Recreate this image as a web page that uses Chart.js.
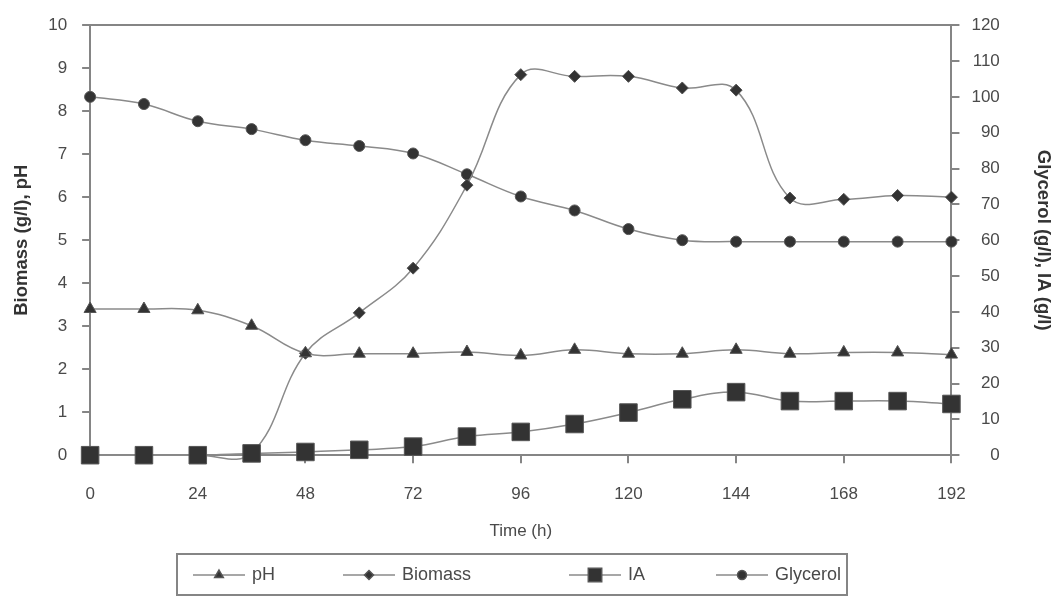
<!DOCTYPE html>
<html lang="en">
<head>
  <meta charset="UTF-8">
  <title>pH, Biomass, IA and Glycerol over time</title>
  <script src="https://cdn.jsdelivr.net/npm/chart.js"></script>
  <style>
    html, body { margin: 0; padding: 0; background: #fff; }
    #wrap { width: 1055px; height: 596px; }
  </style>
</head>
<body>
  <div id="wrap"><canvas id="chart" width="1055" height="596"></canvas></div>

  <script>
    // sampling times (h)
    const hours = [0, 12, 24, 36, 48, 60, 72, 84, 96, 108, 120, 132, 144, 156, 168, 180, 192];

    // left axis series
    const phValues      = [3.40, 3.40, 3.37, 3.01, 2.37, 2.36, 2.36, 2.40, 2.32, 2.45, 2.36, 2.36, 2.45, 2.36, 2.39, 2.39, 2.34];
    const biomassValues = [0, 0, 0, 0.05, 2.37, 3.31, 4.35, 6.28, 8.85, 8.81, 8.81, 8.54, 8.49, 5.98, 5.95, 6.04, 6.00];

    // right axis series
    const iaValues       = [0, 0, 0, 0.5, 0.9, 1.5, 2.4, 5.2, 6.5, 8.7, 11.9, 15.6, 17.6, 15.1, 15.1, 15.1, 14.3];
    const glycerolValues = [100, 98.0, 93.2, 91.0, 87.9, 86.3, 84.2, 78.4, 72.2, 68.3, 63.1, 60.0, 59.6, 59.6, 59.6, 59.6, 59.6];

    // tick labels
    const timeTicks  = [0, 24, 48, 72, 96, 120, 144, 168, 192];
    const leftTicks  = [0, 1, 2, 3, 4, 5, 6, 7, 8, 9, 10];
    const rightTicks = [0, 10, 20, 30, 40, 50, 60, 70, 80, 90, 100, 110, 120];

    const seriesNames = ['pH', 'Biomass', 'IA', 'Glycerol'];

    const lineGrey = '#8a8a8a';
    const axisGrey = '#858585';
    const markFill = '#333333';
    const labelCol = '#4a4a4a';

    const toXY = vals => hours.map((h, i) => ({ x: h, y: vals[i] }));

    Chart.defaults.font.family = "'Liberation Sans', Arial, sans-serif";
    Chart.defaults.color = labelCol;

    // legend drawn as a boxed row under the axis title, like the original
    const legendSlots = [193, 343, 569, 716];
    const legendRadius = [5, 4.5, 9.5, 4.5];
    const boxedLegend = {
      id: 'boxedLegend',
      afterDraw(chart) {
        const ctx = chart.ctx;
        const y = 575;
        ctx.save();
        ctx.strokeStyle = axisGrey;
        ctx.lineWidth = 2;
        ctx.strokeRect(177, 554, 670, 41);
        ctx.font = "18px 'Liberation Sans', Arial, sans-serif";
        ctx.textBaseline = 'middle';
        ctx.textAlign = 'left';
        chart.data.datasets.forEach((ds, i) => {
          const x0 = legendSlots[i];
          ctx.strokeStyle = ds.borderColor;
          ctx.lineWidth = 1.5;
          ctx.beginPath();
          ctx.moveTo(x0, y);
          ctx.lineTo(x0 + 52, y);
          ctx.stroke();
          ctx.fillStyle = markFill;
          ctx.strokeStyle = '#555';
          Chart.helpers.drawPoint(ctx, {
            pointStyle: ds.pointStyle, radius: legendRadius[i], rotation: 0, borderWidth: 1
          }, x0 + 26, y);
          ctx.fillStyle = labelCol;
          ctx.fillText(ds.label, x0 + 59, y);
        });
        ctx.restore();
      }
    };

    const baseSet = {
      borderColor: lineGrey,
      borderWidth: 1.5,
      backgroundColor: markFill,
      pointBackgroundColor: markFill,
      pointBorderColor: '#555',
      pointBorderWidth: 1,
      tension: 0.4,
      fill: false,
      clip: false
    };

    new Chart(document.getElementById('chart'), {
      type: 'line',
      data: {
        datasets: [
          { ...baseSet, label: seriesNames[0], data: toXY(phValues), yAxisID: 'yLeft',
            pointStyle: 'triangle', pointRadius: 7 },
          { ...baseSet, label: seriesNames[1], data: toXY(biomassValues), yAxisID: 'yLeft',
            pointStyle: 'rectRot', pointRadius: 6 },
          { ...baseSet, label: seriesNames[2], data: toXY(iaValues), yAxisID: 'yRight',
            pointStyle: 'rect', pointRadius: 12.4, order: -1 },
          { ...baseSet, label: seriesNames[3], data: toXY(glycerolValues), yAxisID: 'yRight',
            pointStyle: 'circle', pointRadius: 5.5 }
        ]
      },
      options: {
        responsive: false,
        animation: false,
        events: [],
        elements: { line: { capBezierPoints: false } },
        layout: { padding: { top: 21, left: 0, right: 0, bottom: 54 } },
        plugins: {
          legend: { display: false },
          tooltip: { enabled: false }
        },
        scales: {
          x: {
            type: 'linear',
            min: 0,
            max: 192,
            afterBuildTicks: s => { s.ticks = timeTicks.map(v => ({ value: v })); },
            grid: { drawOnChartArea: false, color: axisGrey, tickLength: 8, lineWidth: 2 },
            border: { color: axisGrey, width: 2 },
            ticks: { font: { size: 17 }, color: labelCol, padding: 21, maxRotation: 0 },
            title: { display: true, text: 'Time (h)', font: { size: 17 }, color: labelCol,
                     padding: { top: -4, bottom: 0 } }
          },
          yLeft: {
            position: 'left',
            min: 0,
            max: 10,
            afterBuildTicks: s => { s.ticks = leftTicks.map(v => ({ value: v })); },
            grid: {
              color: c => (c.tick && c.tick.value === 10 ? axisGrey : 'rgba(0,0,0,0)'),
              tickColor: axisGrey, tickLength: 8, lineWidth: 2
            },
            border: { color: axisGrey, width: 2 },
            ticks: { font: { size: 17 }, color: labelCol, padding: 15 },
            title: { display: true, text: 'Biomass (g/l), pH', font: { size: 18.5, weight: 'bold' },
                     color: '#333', padding: { top: 11, bottom: 0 } }
          },
          yRight: {
            position: 'right',
            weight: 0,
            min: 0,
            max: 120,
            afterBuildTicks: s => { s.ticks = rightTicks.map(v => ({ value: v })); },
            grid: { drawOnChartArea: false, color: axisGrey, tickLength: 8, lineWidth: 2 },
            border: { color: axisGrey, width: 2 },
            ticks: { font: { size: 17 }, color: labelCol, padding: 6, crossAlign: 'far' }
          },
          // outer right axis only carries the title, so the tick labels stay right-aligned
          yRightTitle: {
            position: 'right',
            weight: 1,
            display: true,
            min: 0,
            max: 120,
            grid: { display: false, drawTicks: false },
            border: { display: false },
            ticks: { display: false },
            title: { display: true, text: 'Glycerol (g/l), IA (g/l)', font: { size: 18.5, weight: 'bold' },
                     color: '#333', padding: { top: 1, bottom: 32 } }
          }
        }
      },
      plugins: [boxedLegend]
    });
  </script>
</body>
</html>
